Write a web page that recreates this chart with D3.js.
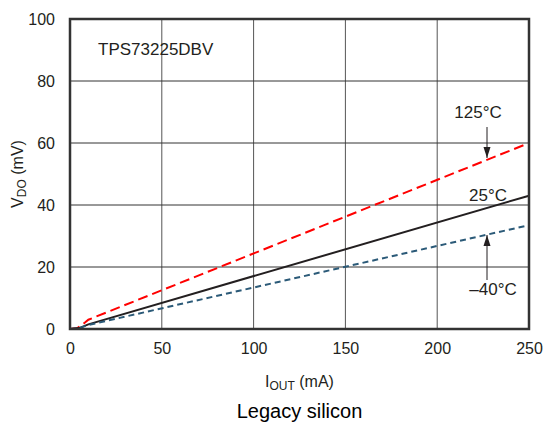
<!DOCTYPE html>
<html>
<head>
<meta charset="utf-8">
<script src="https://cdn.jsdelivr.net/npm/d3@7"></script>
<style>
  html, body { margin: 0; padding: 0; background: #fff; }
  svg { display: block; font-family: Arial, "Liberation Sans", sans-serif; }
</style>
</head>
<body>
<svg id="chart" width="543" height="423"></svg>
<script>
  // Datos (I_OUT en mA, V_DO en mV)
  const xTicks = [0, 50, 100, 150, 200, 250];
  const yTicks = [0, 20, 40, 60, 80, 100];

  const curva125 = [[0, 0], [4, 0.3], [8, 2], [10, 3], [250, 60]];
  const curva25 = [[0, 0], [5, 0.3], [10, 1.5], [250, 43]];
  const curvaMenos40 = [[0, 0], [5, 0.3], [10, 1.3], [250, 33.5]];

  const series = [
    { nombre: '125°C', puntos: curva125, color: '#ff0000', dash: '10,5', ancho: 2 },
    { nombre: '25°C', puntos: curva25, color: '#231f20', dash: null, ancho: 2 },
    { nombre: '−40°C', puntos: curvaMenos40, color: '#2b5a78', dash: '6,4', ancho: 2 },
  ];

  const margen = { izq: 70, der: 14, sup: 19, inf: 94 };
  const ancho = 543, alto = 423;

  const svg = d3.select('#chart');
  const x = d3.scaleLinear().domain([0, 250]).range([margen.izq, ancho - margen.der]);
  const y = d3.scaleLinear().domain([0, 100]).range([alto - margen.inf, margen.sup]);

  // Rejilla
  svg.append('g')
    .selectAll('line.vx')
    .data(xTicks.slice(1, -1))
    .join('line')
    .attr('x1', (d) => x(d)).attr('x2', (d) => x(d))
    .attr('y1', y(0)).attr('y2', y(100))
    .attr('stroke', '#555').attr('stroke-width', 1);

  svg.append('g')
    .selectAll('line.hy')
    .data(yTicks.slice(1, -1))
    .join('line')
    .attr('x1', x(0)).attr('x2', x(250))
    .attr('y1', (d) => y(d)).attr('y2', (d) => y(d))
    .attr('stroke', '#333').attr('stroke-width', 1);

  // Ejes con etiquetas
  const ejeX = svg.append('g')
    .attr('transform', `translate(0,${y(0)})`)
    .call(d3.axisBottom(x).tickValues(xTicks).tickSize(0).tickPadding(14));
  const ejeY = svg.append('g')
    .attr('transform', `translate(${x(0)},0)`)
    .call(d3.axisLeft(y).tickValues(yTicks).tickSize(0).tickPadding(15));
  [ejeX, ejeY].forEach((g) => {
    g.select('.domain').remove();
    g.selectAll('text').attr('font-size', 16).attr('fill', '#231f20')
      .attr('font-family', 'Arial, "Liberation Sans", sans-serif');
  });

  // Curvas
  const linea = d3.line().x((d) => x(d[0])).y((d) => y(d[1]));
  series.forEach((s) => {
    svg.append('path')
      .datum(s.puntos)
      .attr('d', linea)
      .attr('fill', 'none')
      .attr('stroke', s.color)
      .attr('stroke-width', s.ancho)
      .attr('stroke-dasharray', s.dash);
  });

  // Marco
  svg.append('rect')
    .attr('x', x(0)).attr('y', y(100))
    .attr('width', x(250) - x(0)).attr('height', y(0) - y(100))
    .attr('fill', 'none').attr('stroke', '#333').attr('stroke-width', 2.5);

  // Textos
  const texto = (tx, ty, str, size, anchor) => svg.append('text')
    .attr('x', tx).attr('y', ty)
    .attr('font-size', size).attr('fill', '#231f20')
    .attr('text-anchor', anchor || 'start')
    .text(str);

  texto(98, 55, 'TPS73225DBV', 17);
  texto(478, 118, '125°C', 17, 'middle');
  texto(488, 201, '25°C', 17, 'middle');
  texto(493, 295, '–40°C', 17, 'middle');

  // Flechas de anotación
  const flecha = (xa, y1, y2) => {
    svg.append('line').attr('x1', xa).attr('x2', xa).attr('y1', y1).attr('y2', y2)
      .attr('stroke', '#231f20').attr('stroke-width', 1);
    const dir = y2 > y1 ? 1 : -1;
    svg.append('path')
      .attr('d', `M${xa},${y2} L${xa - 3.5},${y2 - dir * 11} L${xa + 3.5},${y2 - dir * 11} Z`)
      .attr('fill', '#231f20');
  };
  flecha(487, 127, 158);
  flecha(487, 280, 235);

  // Título del eje Y
  const tituloY = svg.append('text')
    .attr('transform', `translate(23,${y(50)}) rotate(-90)`)
    .attr('text-anchor', 'middle')
    .attr('font-size', 16).attr('fill', '#231f20');
  tituloY.append('tspan').text('V');
  tituloY.append('tspan').attr('font-size', 12).attr('dy', 3).text('DO');
  tituloY.append('tspan').attr('dy', -3).text(' (mV)');

  // Título del eje X
  const tituloX = svg.append('text')
    .attr('x', (x(0) + x(250)) / 2).attr('y', 387)
    .attr('text-anchor', 'middle')
    .attr('font-size', 16).attr('fill', '#231f20');
  tituloX.append('tspan').text('I');
  tituloX.append('tspan').attr('font-size', 12).attr('dy', 3).text('OUT');
  tituloX.append('tspan').attr('dy', -3).text(' (mA)');

  texto(x(125), 418, 'Legacy silicon', 20, 'middle').attr('fill', '#000');
</script>
</body>
</html>
